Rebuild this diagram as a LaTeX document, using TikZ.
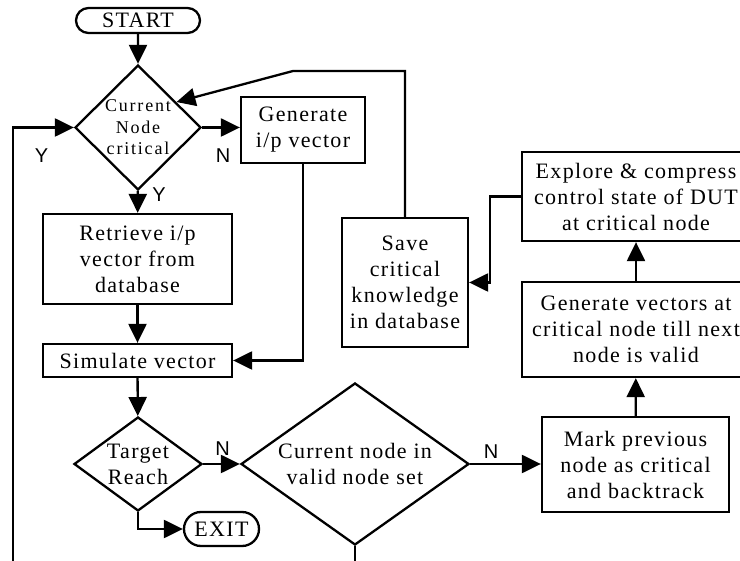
\documentclass[tikz,border=0pt]{standalone}
\usepackage{fontspec}
\setmainfont[LetterSpace=6]{Liberation Serif}
\newfontfamily\labfont{Liberation Sans}
\usetikzlibrary{shapes.geometric,shapes.misc,arrows.meta,calc}
\newcommand\mainsz{\fontsize{22}{26}\selectfont}
\newcommand\dsz{\fontsize{18}{21.5}\selectfont\addfontfeatures{LetterSpace=10}}
\newcommand\labsz{\labfont\fontsize{20}{24}\selectfont}
\begin{document}
\begin{tikzpicture}[x=1pt,y=-1pt,line width=2.3pt,
  box/.style={draw,rectangle,inner sep=0pt,align=center,font=\mainsz},
  term/.style={draw,rounded rectangle,inner sep=0pt,align=center,font=\mainsz},
  dia/.style={draw,diamond,inner sep=0pt,align=center,font=\mainsz},
  lab/.style={inner sep=0pt,font=\labsz},
  arr/.style={-{Triangle[length=19pt,width=18pt]}}]
\useasboundingbox (0,0) rectangle (740,561);
\clip (0,0) rectangle (740,561);
\node[term,minimum width=124pt,minimum height=25pt] (start) at (138,20.5) {START};
\node[dia,aspect=1,minimum width=126pt,minimum height=125pt,font=\dsz] (d1) at (138,127.5) {Current\\Node\\critical};
\node[box,minimum width=124pt,minimum height=66pt] (gen) at (303,130) {Generate\\i/p vector};
\node[box,minimum width=189pt,minimum height=90pt] (ret) at (137.5,259) {Retrieve i/p\\vector from\\database};
\node[box,minimum width=189pt,minimum height=33pt] (sim) at (137.5,360.5) {Simulate vector};
\node[dia,aspect=1.36,minimum width=128pt,minimum height=94pt] (d3) at (138,464) {Target\\Reach};
\node[term,minimum width=75pt,minimum height=34pt] (exit) at (221.5,529) {EXIT};
\node[dia,aspect=1.41,minimum width=228pt,minimum height=162pt] (d2) at (355,464) {Current node in\\valid node set};
\node[box,minimum width=187pt,minimum height=95pt] (mark) at (635.5,464.5) {Mark previous\\node as critical\\and backtrack};
\node[box,minimum width=228pt,minimum height=95pt] (gv) at (636,329.5) {Generate vectors at\\critical node till next\\node is valid};
\node[box,minimum width=228pt,minimum height=89pt] (exp) at (636,196.5) {Explore \& compress\\control state of DUT\\at critical node};
\node[box,minimum width=126pt,minimum height=129pt] (save) at (405,282.5) {Save\\critical\\knowledge\\in database};
\coordinate (ej) at (490,196.5);
\coordinate (sj) at (293,71);
\coordinate (lb) at (13,575);
\coordinate (d2b) at (355,575);
\draw[arr] (start) -- (d1);
\draw[arr] (d1.east) -- (d1.east -| gen.west);
\draw[arr] (d1) -- (ret);
\draw[arr] (ret) -- (sim);
\draw[arr] (gen.south) |- (sim.east);
\draw[arr] (sim) -- (d3);
\draw[arr] (d3) -- (d2);
\draw[arr] (d3.south) |- (exit.west);
\draw[arr] (d2.east) -- (d2.east -| mark.west);
\draw[arr] (mark) -- (gv);
\draw[arr] (gv) -- (exp);
\draw[arr] (exp.west) -- (ej) |- (save.east);
\draw[arr] (save.north) |- (sj) -- ($(d1.north)!0.6!(d1.east)$);
\draw[arr] (lb) |- (d1.west);
\draw (d2.south) -- (d2b);
\node[lab] (y1) at (41.5,155.5) {Y};
\node[lab] (n1) at (223,155.5) {N};
\node[lab] (y2) at (159,195) {Y};
\node[lab] (n2) at (222.5,449) {N};
\node[lab] (n3) at (491,452) {N};
\end{tikzpicture}
\end{document}
